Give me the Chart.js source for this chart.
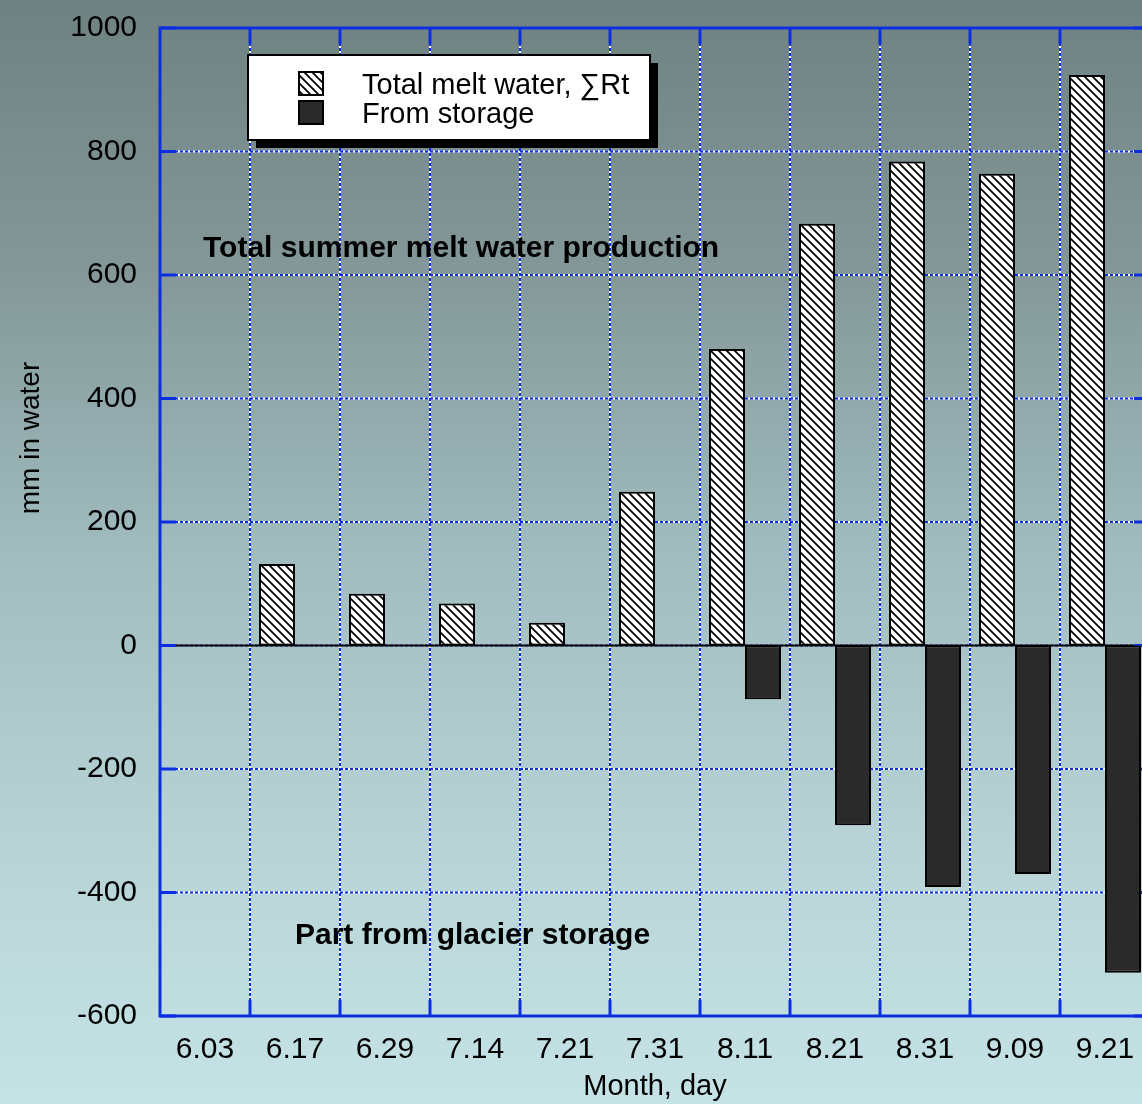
<!DOCTYPE html>
<html>
<head>
<meta charset="utf-8">
<script src="https://cdn.jsdelivr.net/npm/chart.js@4.4.0/dist/chart.umd.min.js"></script>
<style>
html, body { margin: 0; padding: 0; overflow: hidden; width: 1142px; height: 1104px; }
#wrap { width: 1160px; height: 1104px; }
</style>
</head>
<body>
<div id="wrap"><canvas id="myChart" width="1160" height="1104"></canvas></div>
<script>
// data
const days = ['6.03', '6.17', '6.29', '7.14', '7.21', '7.31', '8.11', '8.21', '8.31', '9.09', '9.21'];
const totalMelt = [0, 132, 84, 68, 37, 249, 480, 683, 784, 764, 924];
const fromStorage = [0, 0, 0, 0, 0, 0, -87, -291, -391, -370, -530];
const yTicks = [-600, -400, -200, 0, 200, 400, 600, 800, 1000];
const notes = [
    { text: 'Total summer melt water production', x: 203, y: 249 },
    { text: 'Part from glacier storage', x: 295, y: 936 }
];

const FONT = "'Liberation Sans', Arial, Helvetica, sans-serif";
const BLUE = '#0b2fe0';

// hatched fill, lines running top-left to bottom-right
function makeHatch() {
    const c = document.createElement('canvas');
    c.width = 8; c.height = 8;
    const g = c.getContext('2d');
    g.fillStyle = '#fff';
    g.fillRect(0, 0, 8, 8);
    g.strokeStyle = '#000';
    g.lineWidth = 1.8;
    g.beginPath();
    g.moveTo(-2, -2); g.lineTo(10, 10);
    g.moveTo(-2, 6); g.lineTo(2, 10);
    g.moveTo(6, -2); g.lineTo(10, 2);
    g.stroke();
    return g.createPattern(c, 'repeat');
}
const hatch = makeHatch();

const backdrop = {
    id: 'backdrop',
    beforeDraw(chart) {
        const ctx = chart.ctx;
        const grad = ctx.createLinearGradient(0, 0, 0, chart.height);
        grad.addColorStop(0, 'rgb(110,130,130)');
        grad.addColorStop(0.25, 'rgb(132,152,153)');
        grad.addColorStop(0.5, 'rgb(160,188,190)');
        grad.addColorStop(0.75, 'rgb(182,210,213)');
        grad.addColorStop(1, 'rgb(197,227,230)');
        ctx.save();
        ctx.fillStyle = grad;
        ctx.fillRect(0, 0, chart.width, chart.height);
        ctx.restore();
    },
    beforeDatasetsDraw(chart) {
        const ctx = chart.ctx, a = chart.chartArea;
        const xs = chart.scales.x, ys = chart.scales.y;
        const hLines = yTicks.map(v => ys.getPixelForValue(v));
        const vLines = [];
        for (let i = 1; i < days.length; i++) {
            vLines.push((xs.getPixelForValue(i - 1) + xs.getPixelForValue(i)) / 2);
        }
        const seg = (x1, y1, x2, y2) => { ctx.beginPath(); ctx.moveTo(x1, y1); ctx.lineTo(x2, y2); ctx.stroke(); };
        ctx.save();
        ctx.lineWidth = 2;
        ctx.strokeStyle = '#fff';
        hLines.forEach(py => seg(a.left, py, a.right, py));
        vLines.forEach(px => seg(px, a.top, px, a.bottom));
        ctx.strokeStyle = BLUE;
        ctx.setLineDash([3, 2]);
        hLines.forEach(py => seg(a.left, py, a.right, py));
        vLines.forEach(px => seg(px, a.top, px, a.bottom));
        ctx.setLineDash([]);
        // zero line
        ctx.strokeStyle = '#000';
        const z = ys.getPixelForValue(0);
        seg(a.left, z, a.right, z);
        // frame and inward ticks
        ctx.strokeStyle = BLUE;
        ctx.lineWidth = 3;
        ctx.strokeRect(a.left, a.top, a.right - a.left, a.bottom - a.top);
        vLines.forEach(px => { seg(px, a.bottom, px, a.bottom - 16); seg(px, a.top, px, a.top + 16); });
        hLines.forEach(py => { seg(a.left, py, a.left + 16, py); seg(a.right, py, a.right - 16, py); });
        ctx.restore();
    },
    afterDraw(chart) {
        const ctx = chart.ctx;
        ctx.save();
        ctx.fillStyle = '#000';
        // y axis title
        ctx.save();
        ctx.translate(31, 438);
        ctx.rotate(-Math.PI / 2);
        ctx.font = '28px ' + FONT;
        ctx.textAlign = 'center';
        ctx.textBaseline = 'middle';
        ctx.fillText('mm in water', 0, 0);
        ctx.restore();
        // notes
        ctx.font = 'bold 30px ' + FONT;
        ctx.textBaseline = 'middle';
        notes.forEach(n => ctx.fillText(n.text, n.x, n.y));
        // legend box with drop shadow
        const bx = 248, by = 55, bw = 402, bh = 85;
        ctx.fillRect(bx + 8, by + 8, bw, bh);
        ctx.fillStyle = '#fff';
        ctx.fillRect(bx, by, bw, bh);
        ctx.lineWidth = 2;
        ctx.strokeStyle = '#000';
        ctx.strokeRect(bx, by, bw, bh);
        ctx.font = '29px ' + FONT;
        ctx.textBaseline = 'alphabetic';
        chart.data.datasets.forEach((ds, i) => {
            const sy = 72 + i * 29;
            ctx.fillStyle = ds.backgroundColor;
            ctx.fillRect(299, sy, 24, 23);
            ctx.lineWidth = 2;
            ctx.strokeRect(299, sy, 24, 23);
            ctx.fillStyle = '#000';
            ctx.fillText(ds.label, 362, sy + 22);
        });
        ctx.restore();
    }
};

const ctx = document.getElementById('myChart').getContext('2d');
const myChart = new Chart(ctx, {
    type: 'bar',
    data: {
        labels: days,
        datasets: [{
            label: 'Total melt water, \u2211Rt',
            data: totalMelt,
            backgroundColor: hatch,
            borderColor: '#000',
            borderWidth: 2,
            borderSkipped: false
        }, {
            label: 'From storage',
            data: fromStorage,
            backgroundColor: '#2a2a2a',
            borderColor: '#000',
            borderWidth: 2,
            borderSkipped: false
        }]
    },
    options: {
        responsive: false,
        animation: false,
        devicePixelRatio: 1,
        layout: { padding: { top: 28, right: 10, left: 0, bottom: 0 } },
        datasets: { bar: { categoryPercentage: 0.8, barPercentage: 1.0 } },
        plugins: { legend: { display: false }, tooltip: { enabled: false } },
        scales: {
            x: {
                grid: { display: false, drawTicks: false },
                border: { display: false },
                ticks: { color: '#000', font: { family: FONT, size: 30 }, padding: 16, maxRotation: 0 },
                title: { display: true, text: 'Month, day', color: '#000', font: { family: FONT, size: 29 }, padding: { top: 1, bottom: 0 } },
                afterFit(s) { s.height = 88; s.paddingLeft = 0; s.paddingRight = 0; }
            },
            y: {
                min: -600,
                max: 1000,
                grid: { display: false, drawTicks: false },
                border: { display: false },
                afterBuildTicks(s) { s.ticks = yTicks.map(v => ({ value: v })); },
                ticks: { color: '#000', font: { family: FONT, size: 30 }, padding: 23, callback: v => String(v) },
                afterFit(s) { s.width = 160; s.paddingTop = 0; s.paddingBottom = 0; }
            }
        }
    },
    plugins: [backdrop]
});
</script>
</body>
</html>
